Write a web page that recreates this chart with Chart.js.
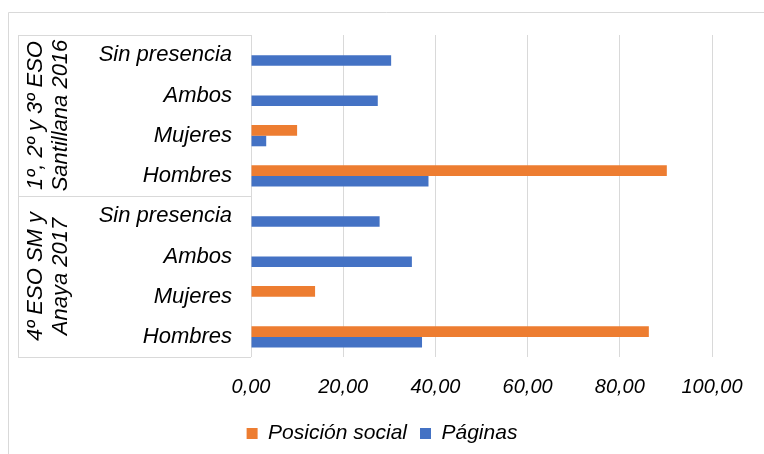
<!DOCTYPE html>
<html>
<head>
<meta charset="utf-8">
<script src="https://cdn.jsdelivr.net/npm/chart.js@4"></script>
<style>
  body { margin: 0; background: #fff; }
  #wrap { width: 764px; height: 454px; position: relative; }
</style>
</head>
<body>
<div id="wrap"><canvas id="myBarChart"></canvas></div>
<script>
// data
const categories = ['Sin presencia', 'Ambos', 'Mujeres', 'Hombres',
                    'Sin presencia', 'Ambos', 'Mujeres', 'Hombres'];
const posicionSocial = [0, 0, 10.0, 90.2, 0, 0, 13.9, 86.3];
const paginas = [30.4, 27.5, 3.3, 38.5, 27.9, 34.9, 0, 37.1];
const groupLabels = [['1º, 2º y 3º ESO', 'Santillana 2016'], ['4º ESO SM y', 'Anaya 2017']];
const groupSizes = [4, 4];
const xTicks = [0, 20, 40, 60, 80, 100];

const FONT = "'Liberation Sans', Arial, sans-serif";
const LINE = '#d9d9d9';

// outer frame + group label boxes on the left
const groupPlugin = {
  id: 'groupPlugin',
  beforeDraw(chart) {
    const ctx = chart.ctx;
    ctx.save();
    ctx.strokeStyle = LINE;
    ctx.lineWidth = 1;
    ctx.beginPath();
    ctx.moveTo(8.5, chart.height);
    ctx.lineTo(8.5, 12.5);
    ctx.lineTo(chart.width, 12.5);
    ctx.stroke();
    ctx.restore();
  },
  afterDraw(chart) {
    const ctx = chart.ctx;
    const area = chart.chartArea;
    const step = (area.bottom - area.top) / categories.length;
    ctx.save();
    ctx.strokeStyle = LINE;
    ctx.lineWidth = 1;
    let start = 0;
    const edges = [area.top];
    groupSizes.forEach(n => { start += n; edges.push(area.top + start * step); });
    ctx.beginPath();
    edges.forEach(e => {
      ctx.moveTo(18, Math.round(e) + 0.5);
      ctx.lineTo(area.left, Math.round(e) + 0.5);
    });
    ctx.moveTo(18.5, edges[0]);
    ctx.lineTo(18.5, edges[edges.length - 1]);
    ctx.stroke();

    ctx.fillStyle = '#000';
    ctx.font = 'italic 22px ' + FONT;
    ctx.textAlign = 'center';
    ctx.textBaseline = 'middle';
    groupLabels.forEach((lines, i) => {
      const cy = (edges[i] + edges[i + 1]) / 2;
      lines.forEach((t, j) => {
        ctx.save();
        ctx.translate(36 + j * 25, cy);
        ctx.rotate(-Math.PI / 2);
        ctx.fillText(t, 0, 0);
        ctx.restore();
      });
    });
    ctx.restore();
  }
};

const chart = new Chart(document.getElementById('myBarChart'), {
  type: 'bar',
  data: {
    labels: categories,
    datasets: [{
      label: 'Posición social',
      data: posicionSocial,
      backgroundColor: '#ED7D31'
    }, {
      label: 'Páginas',
      data: paginas,
      backgroundColor: '#4472C4'
    }]
  },
  options: {
    indexAxis: 'y',
    responsive: true,
    maintainAspectRatio: false,
    animation: false,
    datasets: { bar: { barPercentage: 1, categoryPercentage: 0.53 } },
    layout: { padding: { top: 35, left: 0, right: 0, bottom: 0 } },
    scales: {
      y: {
        position: 'left',
        grid: { display: false, drawTicks: false },
        border: { display: false },
        ticks: { padding: 19, color: '#000', font: { family: FONT, size: 22, style: 'italic' } },
        afterFit(s) { s.width = 251; }
      },
      x: {
        min: 0,
        max: 100,
        afterBuildTicks(s) { s.ticks = xTicks.map(v => ({ value: v })); },
        grid: { color: LINE, drawTicks: false },
        border: { display: false },
        ticks: {
          padding: 18,
          color: '#000',
          font: { family: FONT, size: 20, style: 'italic' },
          callback: v => v.toFixed(2).replace('.', ',')
        },
        afterFit(s) { s.height = 53; }
      },
      yRight: {
        type: 'category',
        position: 'right',
        display: true,
        grid: { display: false, drawTicks: false },
        border: { display: false },
        ticks: { display: false },
        afterFit(s) { s.width = 52; }
      }
    },
    plugins: {
      legend: {
        position: 'bottom',
        labels: {
          boxWidth: 11,
          boxHeight: 11,
          padding: 13,
          color: '#000',
          font: { family: FONT, size: 21, style: 'italic' }
        }
      },
      tooltip: { enabled: false }
    }
  },
  plugins: [groupPlugin]
});
</script>
</body>
</html>
